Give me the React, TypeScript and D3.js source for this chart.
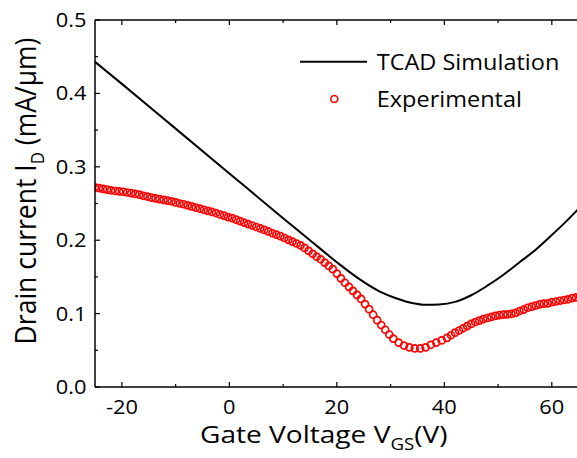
import React from 'react';
import * as d3 from 'd3';

const W = 577;
const H = 458;

const xMajorTicks = [-20, 0, 20, 40, 60];
const xMinorTicks = [-10, 10, 30, 50];
const yMajorTicks = [0.0, 0.1, 0.2, 0.3, 0.4, 0.5];
const yMinorTicks = [0.05, 0.15, 0.25, 0.35, 0.45];
const yTickLabels = ['0.0', '0.1', '0.2', '0.3', '0.4', '0.5'];

// TCAD Simulation (solid black line)
const tcadVgs = [-25, -20, -10, 0, 10, 15, 20, 24, 28, 31, 34, 36.5, 39, 42, 45, 48, 51, 54, 57, 60, 63, 65];
const tcadId = [0.443, 0.413, 0.352, 0.291, 0.230, 0.200, 0.170, 0.148, 0.130, 0.121, 0.1145, 0.112, 0.1125, 0.116, 0.125, 0.138, 0.153, 0.170, 0.187, 0.207, 0.228, 0.243];

// Experimental (red open circles)
const expVgs = [
  -25, -24.25, -23.5, -22.75, -22, -21.25, -20.5, -19.75, -19, -18.25,
  -17.5, -16.75, -16, -15.25, -14.5, -13.75, -13, -12.25, -11.5, -10.75,
  -10, -9.25, -8.5, -7.75, -7, -6.25, -5.5, -4.75, -4, -3.25,
  -2.5, -1.75, -1, -0.25, 0.5, 1.25, 2, 2.75, 3.5, 4.25,
  5, 5.75, 6.5, 7.25, 8, 8.75, 9.5, 10.25, 11, 11.75,
  12.5, 13.25, 14, 14.75, 15.5, 16.25, 17, 17.75, 18.5, 19.25,
  20, 20.75, 21.5, 22.25, 23, 23.75, 24.5, 25.25, 26, 26.75,
  27.5, 28.25, 29, 29.75, 30.5, 31.5, 32.5, 33.5, 34.5, 35.5,
  36.5, 37.5, 38.5, 39.5, 40.5, 41.25, 42, 42.75, 43.5, 44.25,
  45, 45.75, 46.5, 47.25, 48, 48.75, 49.5, 50.25, 51, 51.75,
  52.5, 53.25, 54, 54.75, 55.5, 56.25, 57, 57.75, 58.5, 59.25,
  60, 60.75, 61.5, 62.25, 63, 63.75, 64.5, 65.25,
];
const expId = [
  0.272, 0.271, 0.270, 0.269, 0.268, 0.267, 0.2665, 0.266, 0.265, 0.264,
  0.263, 0.262, 0.2605, 0.2595, 0.258, 0.257, 0.256, 0.255, 0.254, 0.253,
  0.2515, 0.250, 0.249, 0.2475, 0.246, 0.2445, 0.243, 0.2415, 0.240, 0.2385,
  0.237, 0.235, 0.2335, 0.2315, 0.230, 0.228, 0.226, 0.224, 0.222, 0.220,
  0.218, 0.216, 0.214, 0.212, 0.2095, 0.2075, 0.2055, 0.203, 0.2005, 0.198,
  0.1955, 0.193, 0.1895, 0.1855, 0.1815, 0.1775, 0.174, 0.1695, 0.165, 0.1605,
  0.1545, 0.148, 0.142, 0.1365, 0.131, 0.1255, 0.120, 0.113, 0.106, 0.0985,
  0.091, 0.0845, 0.078, 0.0715, 0.066, 0.0605, 0.0565, 0.054, 0.0525, 0.0525,
  0.054, 0.0575, 0.0605, 0.0635, 0.067, 0.0705, 0.074, 0.077, 0.080, 0.083,
  0.086, 0.0885, 0.0905, 0.0925, 0.094, 0.0955, 0.097, 0.098, 0.0985, 0.099,
  0.0995, 0.101, 0.1035, 0.1055, 0.108, 0.1095, 0.111, 0.1125, 0.1135, 0.114,
  0.1155, 0.1165, 0.1175, 0.1185, 0.1195, 0.121, 0.122, 0.123,
];

const seriesNames = ['TCAD Simulation', 'Experimental'];

const FONT = "'Open Sans', 'Noto Sans', sans-serif";
const SX = 1.12;

export default function App() {
  const left = 95;
  const top = 20;
  const bottom = 387;
  const right = 578.7;

  const x = d3.scaleLinear().domain([-25, 65]).range([left, right]);
  const y = d3.scaleLinear().domain([0, 0.5]).range([bottom, top]);

  const tcadPts: [number, number][] = tcadVgs.map((v, i) => [v, tcadId[i]]);
  const line = d3
    .line<[number, number]>()
    .x((d) => x(d[0]))
    .y((d) => y(d[1]))
    .curve(d3.curveMonotoneX);

  const majorLen = 5;
  const minorLen = 3;

  return (
    <svg
      width={W}
      height={H}
      style={{ position: 'absolute', left: 0, top: 0, display: 'block', background: '#fff' }}
      fontFamily={FONT}
    >
      <defs>
        <clipPath id="plotclip">
          <rect x={left} y={top} width={right - left} height={bottom - top} />
        </clipPath>
      </defs>

      {/* data */}
      <g clipPath="url(#plotclip)">
        <path d={line(tcadPts) || ''} fill="none" stroke="#000" strokeWidth={2} />
        {expVgs.map((v, i) => (
          <circle
            key={i}
            cx={x(v)}
            cy={y(expId[i])}
            r={3.5}
            fill="none"
            stroke="#ff0000"
            strokeWidth={1.7}
          />
        ))}
      </g>

      {/* axes frame */}
      <line x1={left} x2={left} y1={top} y2={bottom} stroke="#000" strokeWidth={1.5} />
      <line x1={left} x2={right} y1={bottom} y2={bottom} stroke="#000" strokeWidth={1.5} />
      <line x1={left} x2={right} y1={top} y2={top} stroke="#000" strokeWidth={1.5} />
      <line x1={right} x2={right} y1={top} y2={bottom} stroke="#000" strokeWidth={1.5} />

      {/* x ticks */}
      {xMajorTicks.map((t) => (
        <g key={'xM' + t}>
          <line x1={x(t)} x2={x(t)} y1={bottom} y2={bottom - majorLen} stroke="#000" strokeWidth={1.2} />
          <line x1={x(t)} x2={x(t)} y1={top} y2={top + majorLen} stroke="#000" strokeWidth={1.2} />
          <text
            transform={`translate(${x(t)},${414}) scale(${SX},1)`}
            textAnchor="middle"
            fontSize={19.5}
            fill="#000"
          >
            {t < 0 ? '-' + Math.abs(t) : String(t)}
          </text>
        </g>
      ))}
      {xMinorTicks.map((t) => (
        <g key={'xm' + t}>
          <line x1={x(t)} x2={x(t)} y1={bottom} y2={bottom - minorLen} stroke="#000" strokeWidth={1.2} />
          <line x1={x(t)} x2={x(t)} y1={top} y2={top + minorLen} stroke="#000" strokeWidth={1.2} />
        </g>
      ))}

      {/* y ticks */}
      {yMajorTicks.map((t, i) => (
        <g key={'yM' + t}>
          <line x1={left} x2={left + majorLen} y1={y(t)} y2={y(t)} stroke="#000" strokeWidth={1.2} />
          <text
            transform={`translate(${86.5},${y(t) + 7}) scale(${SX},1)`}
            textAnchor="end"
            fontSize={19.5}
            fill="#000"
          >
            {yTickLabels[i]}
          </text>
        </g>
      ))}
      {yMinorTicks.map((t) => (
        <line key={'ym' + t} x1={left} x2={left + minorLen} y1={y(t)} y2={y(t)} stroke="#000" strokeWidth={1.2} />
      ))}

      {/* x axis label */}
      <text transform={`translate(${200},${443}) scale(1.17,1)`} fontSize={24} fill="#000">
        Gate Voltage V
        <tspan fontSize={16} dy={7}>GS</tspan>
        <tspan dy={-7}>(V)</tspan>
      </text>

      {/* y axis label */}
      <text
        transform={`translate(${36},${191}) rotate(-90) scale(1,${SX})`}
        textAnchor="middle"
        fontSize={26.5}
        fill="#000"
      >
        Drain current I
        <tspan fontSize={17} dy={7}>D</tspan>
        <tspan dy={-7}> (mA/μm)</tspan>
      </text>

      {/* legend */}
      <line x1={300} x2={367} y1={61.7} y2={61.7} stroke="#000" strokeWidth={2} />
      <text transform={`translate(${376.7},${69.5}) scale(${SX},1)`} fontSize={21} fill="#000">
        {seriesNames[0]}
      </text>
      <circle cx={334.3} cy={99} r={3.5} fill="none" stroke="#ff0000" strokeWidth={1.6} />
      <text transform={`translate(${376.7},${106.5}) scale(${SX},1)`} fontSize={21} fill="#000">
        {seriesNames[1]}
      </text>
    </svg>
  );
}
